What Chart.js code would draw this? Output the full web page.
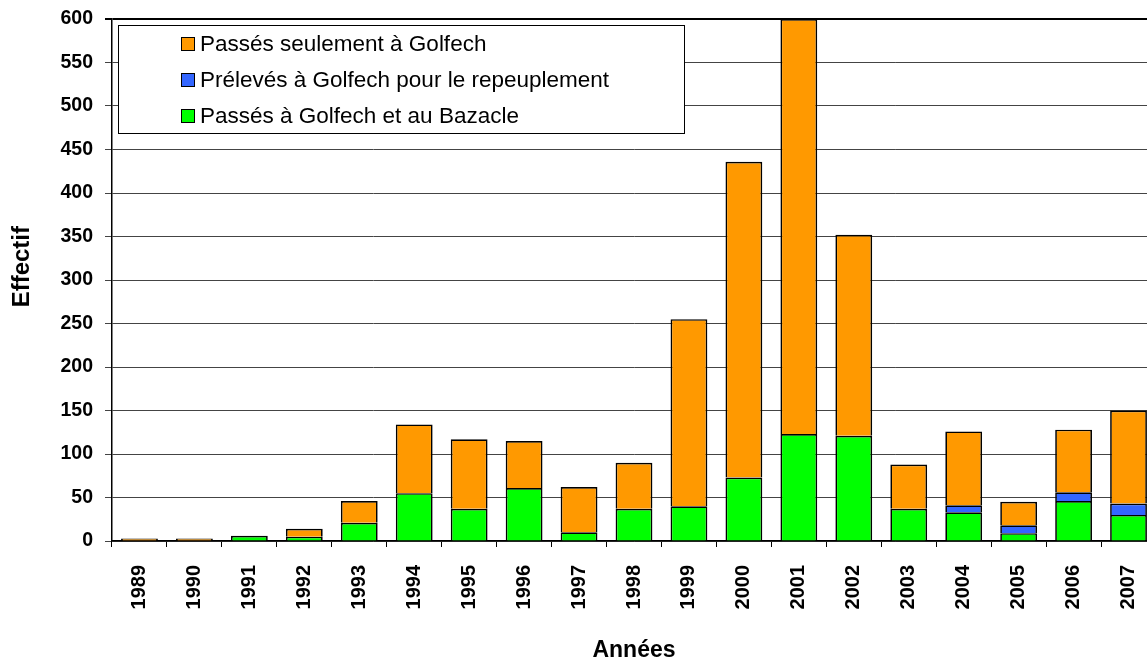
<!DOCTYPE html>
<html>
<head>
<meta charset="utf-8">
<script src="https://cdn.jsdelivr.net/npm/chart.js@4"></script>
<style>
html,body{margin:0;padding:0;background:#fff;overflow:hidden;}
#wrap{position:relative;width:1160px;height:662px;}
</style>
</head>
<body>
<div id="wrap"><canvas id="c"></canvas></div>
<script>
const years = ['1989','1990','1991','1992','1993','1994','1995','1996','1997','1998','1999','2000','2001','2002','2003','2004','2005','2006','2007'];
const bazacle = [0,0,6,5,21,55,37,61,10,37,40,73,123,121,37,33,9,46,30];
const preleves = [0,0,0,0,0,0,0,0,0,0,0,0,0,0,0,8,9,10,13];
const golfechSeul = [3,3,0,9,25,79,80,54,52,53,215,363,477,231,51,85,27,72,107];
const seriesNames = ['Passés seulement à Golfech','Prélevés à Golfech pour le repeuplement','Passés à Golfech et au Bazacle'];
const yTicks = [0,50,100,150,200,250,300,350,400,450,500,550,600];

const FONT = "'Liberation Sans', Arial, sans-serif";
const COL_ORANGE = '#FF9900', COL_BLUE = '#3366FF', COL_GREEN = '#00FF00';

const legendBox = {
  id: 'legendBox',
  afterDraw(chart) {
    const ctx = chart.ctx;
    const x0 = 118, y0 = 25, w = 566, h = 108;
    ctx.save();
    ctx.fillStyle = '#fff';
    ctx.fillRect(x0, y0, w, h);
    ctx.strokeStyle = '#000';
    ctx.lineWidth = 1;
    ctx.strokeRect(x0 + 0.5, y0 + 0.5, w, h);
    const items = [[seriesNames[0], COL_ORANGE], [seriesNames[1], COL_BLUE], [seriesNames[2], COL_GREEN]];
    ctx.font = '22.5px ' + FONT;
    ctx.textBaseline = 'middle';
    ctx.textAlign = 'left';
    items.forEach((it, i) => {
      const cy = 44 + i * 36;
      ctx.fillStyle = it[1];
      ctx.fillRect(181, cy - 7, 14, 14);
      ctx.strokeStyle = '#000';
      ctx.lineWidth = 1;
      ctx.strokeRect(181.5, cy - 6.5, 13, 13);
      ctx.fillStyle = '#000';
      ctx.fillText(it[0], 200, cy + 1);
    });
    ctx.restore();
  }
};

new Chart(document.getElementById('c'), {
  type: 'bar',
  data: {
    labels: years,
    datasets: [
      {label: seriesNames[2], data: bazacle, backgroundColor: COL_GREEN, borderColor: '#000', borderWidth: 1.7, stack: 's', barPercentage: 0.67, categoryPercentage: 1},
      {label: seriesNames[1], data: preleves, backgroundColor: COL_BLUE, borderColor: '#000', borderWidth: 1.7, stack: 's', barPercentage: 0.67, categoryPercentage: 1},
      {label: seriesNames[0], data: golfechSeul, backgroundColor: COL_ORANGE, borderColor: '#000', borderWidth: 1.7, stack: 's', barPercentage: 0.67, categoryPercentage: 1}
    ]
  },
  options: {
    responsive: true,
    maintainAspectRatio: false,
    animation: false,
    layout: {padding: {top: 19, right: 4, left: 0, bottom: 0}},
    plugins: {legend: {display: false}, tooltip: {enabled: false}},
    scales: {
      x: {
        stacked: true,
        offset: true,
        grid: {offset: true, drawOnChartArea: false, drawTicks: true, tickLength: 6, color: '#000', lineWidth: 1},
        border: {display: true, color: '#000', width: 1.5},
        ticks: {maxRotation: 90, minRotation: 90, padding: 18, color: '#000', font: {family: FONT, size: 20, weight: 'bold'}},
        title: {display: true, text: 'Années', color: '#000', font: {family: FONT, size: 23, weight: 'bold', lineHeight: 1}, padding: {top: 0, bottom: 0}},
        afterFit: (s) => { s.height = 121; s.paddingLeft = 0; s.paddingRight = 0; }
      },
      y: {
        stacked: true,
        min: 0, max: 600,
        afterBuildTicks: (s) => { s.ticks = yTicks.map(v => ({value: v})); },
        grid: {
          drawTicks: true, tickLength: 7,
          color: (c) => (c.tick && c.tick.value === 600) ? '#000' : '#444',
          lineWidth: (c) => (c.tick && c.tick.value === 600) ? 2 : 1
        },
        border: {display: true, color: '#000', width: 1.5},
        ticks: {padding: 12, color: '#000', font: {family: FONT, size: 19.5, weight: 'bold'}},
        title: {display: true, text: '    Effectif', color: '#000', font: {family: FONT, size: 24, weight: 'bold', lineHeight: 1.2}, padding: {top: 8, bottom: 0}},
        afterFit: (s) => { s.width = 112; s.paddingTop = 0; s.paddingBottom = 0; }
      }
    }
  },
  plugins: [legendBox]
});
</script>
</body>
</html>
